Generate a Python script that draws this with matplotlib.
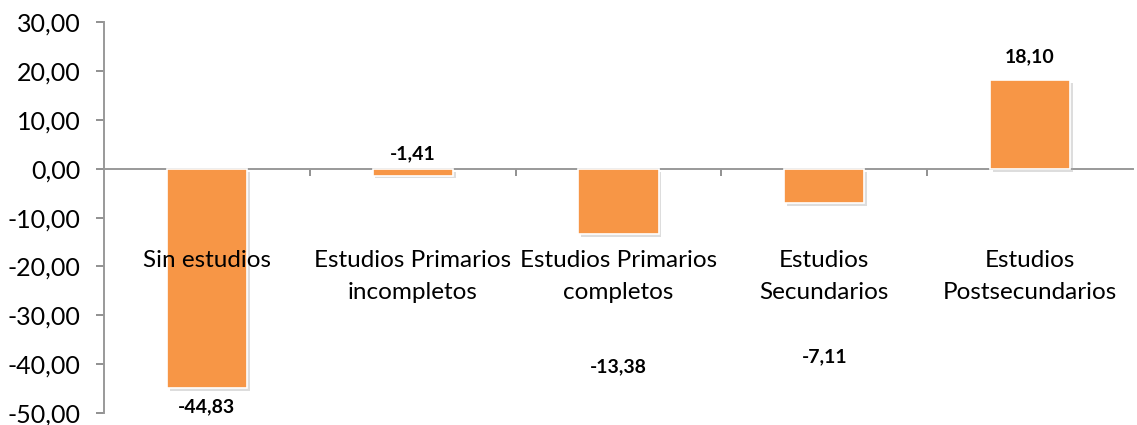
import numpy as np
import matplotlib
matplotlib.use("Agg")
import matplotlib.pyplot as plt
import matplotlib.patheffects as pe
from matplotlib.ticker import FuncFormatter

plt.rcParams["font.family"] = ["Lato", "DejaVu Sans"]
plt.rcParams["axes.unicode_minus"] = False

categories = ["Sin estudios", "Estudios Primarios\nincompletos",
              "Estudios Primarios\ncompletos", "Estudios\nSecundarios",
              "Estudios\nPostsecundarios"]
values = [-44.83, -1.41, -13.38, -7.11, 18.10]
# where the value labels sit (as in the original layout)
label_y = [-48.6, 3.1, -40.5, -38.4, 23.0]

fig = plt.figure(figsize=(11.37, 4.25), dpi=100)
ax = fig.add_axes([0.0915, 0.028, 0.905, 0.92])

x = np.arange(len(categories))
ax.bar(x, values, width=0.39, color="#F79646", edgecolor="white", linewidth=1.2,
       path_effects=[pe.withSimplePatchShadow(offset=(2, -2), shadow_rgbFace="#aaaaaa", alpha=0.4)],
       zorder=3)

for xi, v, ly in zip(x, values, label_y):
    ax.text(xi, ly, f"{v:.2f}".replace(".", ","), ha="center", va="center",
            fontsize=14, fontweight="bold", color="black", zorder=4)

for xi, c in zip(x, categories):
    ax.text(xi, -16.7, c, ha="center", va="top", fontsize=17.5, color="black",
            linespacing=1.6, zorder=5)

ax.set_xlim(-0.5, 4.5)
ax.set_ylim(-50, 30)
ax.set_yticks(np.arange(-50, 31, 10))
ax.yaxis.set_major_formatter(FuncFormatter(lambda v, p: f"{v:.2f}".replace(".", ",")))
ax.tick_params(axis="y", labelsize=18, length=6, color="#888888", width=1.3, pad=11)

ax.spines["bottom"].set_position(("data", 0))
ax.set_xticks([])
ax.set_xticks(np.arange(0.5, 4.5, 1), minor=True)
ax.tick_params(axis="x", which="minor", length=5, color="#888888", width=1.3, direction="out")
ax.tick_params(axis="x", which="major", length=0)
ax.spines["bottom"].set_zorder(2)

for s in ["top", "right"]:
    ax.spines[s].set_visible(False)
for s in ["left", "bottom"]:
    ax.spines[s].set_color("#999999")
    ax.spines[s].set_linewidth(1.4)

fig.savefig("out.png", dpi=100, facecolor="white")
